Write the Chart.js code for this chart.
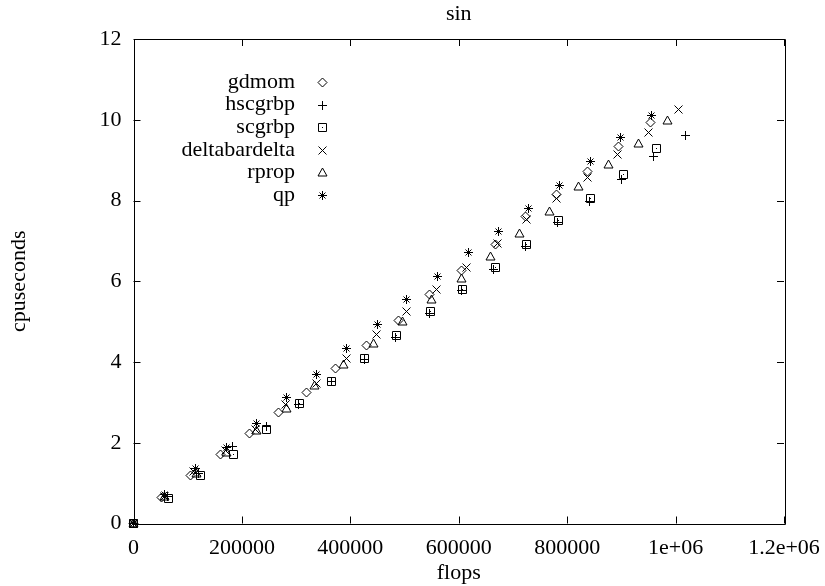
<!DOCTYPE html>
<html>
<head>
	<title>sin - cpuseconds vs flops</title>
	<meta charset="utf-8" />
	<script src="https://cdn.jsdelivr.net/npm/chart.js"></script>
	<style>
		body { margin: 0; background: #fff; }
		#wrap { width: 825px; height: 586px; }
	</style>
</head>
<body>

<div id="wrap"><canvas id="myChart" width="825" height="586"></canvas></div>

<script type="text/javascript">
// data (flops, cpuseconds), every run starts at the origin
var gdmomFlops   = [0, 52000, 105500, 159600, 213100, 266600, 319600, 371800, 430300, 488600, 545700, 605500, 667000, 722300, 780800, 838000, 894500, 953000];
var gdmomCpu     = [0, 0.65, 1.18, 1.70, 2.22, 2.74, 3.24, 3.85, 4.41, 5.04, 5.66, 6.27, 6.90, 7.60, 8.14, 8.72, 9.34, 9.93];

var hscgrbpFlops = [0, 61800, 120800, 183000, 244500, 305300, 365700, 425300, 482500, 545200, 604200, 663300, 722300, 781400, 841000, 900700, 959000, 1018800];
var hscgrbpCpu   = [0, 0.68, 1.25, 1.90, 2.40, 2.94, 3.51, 4.05, 4.60, 5.19, 5.76, 6.28, 6.85, 7.45, 7.98, 8.51, 9.08, 9.61];

var scgrbpFlops  = [0, 63700, 124500, 183600, 244500, 305900, 365700, 425300, 485600, 547000, 607400, 667000, 725500, 784500, 843500, 903700, 964600];
var scgrbpCpu    = [0, 0.63, 1.18, 1.72, 2.34, 2.96, 3.51, 4.08, 4.65, 5.24, 5.80, 6.34, 6.90, 7.50, 8.06, 8.65, 9.30];

var dbdFlops     = [0, 56300, 111600, 168800, 224200, 279500, 338000, 393400, 448700, 504100, 559400, 614800, 671200, 725500, 780800, 838000, 892600, 949800, 1004600];
var dbdCpu       = [0, 0.68, 1.28, 1.80, 2.34, 2.94, 3.46, 4.09, 4.69, 5.25, 5.80, 6.35, 6.94, 7.52, 8.06, 8.58, 9.15, 9.69, 10.25];

var rpropFlops   = [0, 58100, 115300, 172000, 226000, 281400, 333000, 387100, 442400, 496700, 550200, 604200, 659000, 711800, 767200, 821000, 876000, 931400, 985200];
var rpropCpu     = [0, 0.66, 1.23, 1.75, 2.30, 2.86, 3.41, 3.95, 4.47, 5.00, 5.56, 6.08, 6.61, 7.19, 7.73, 8.35, 8.90, 9.42, 9.97];

var qpFlops      = [0, 58100, 113500, 170700, 226000, 281400, 338000, 393400, 449800, 504100, 560900, 617700, 673100, 728400, 785600, 842200, 897600, 954800];
var qpCpu        = [0, 0.73, 1.35, 1.87, 2.47, 3.11, 3.70, 4.34, 4.92, 5.54, 6.11, 6.70, 7.23, 7.81, 8.37, 8.97, 9.55, 10.10];

var seriesNames  = ['gdmom', 'hscgrbp', 'scgrbp', 'deltabardelta', 'rprop', 'qp'];
var xTicks       = [0, 200000, 400000, 600000, 800000, 1000000, 1200000];
var xTickLabels  = ['0', '200000', '400000', '600000', '800000', '1e+06', '1.2e+06'];
var yTicks       = [0, 2, 4, 6, 8, 10, 12];

var FONT = '"Liberation Serif", "Times New Roman", serif';
var FSIZE = 22;

// gnuplot-like point markers drawn on small canvases
function makeMarker(kind) {
	var c = document.createElement('canvas');
	c.width = 13; c.height = 13;
	var g = c.getContext('2d');
	g.strokeStyle = '#000';
	g.fillStyle = '#000';
	g.lineWidth = 1;
	g.beginPath();
	if (kind == 'diamond') {
		g.moveTo(6.5, 2); g.lineTo(11, 6.5); g.lineTo(6.5, 11); g.lineTo(2, 6.5); g.closePath();
	} else if (kind == 'plus') {
		g.moveTo(2, 6.5); g.lineTo(11, 6.5); g.moveTo(6.5, 2); g.lineTo(6.5, 11);
	} else if (kind == 'square') {
		g.rect(2.5, 2.5, 8, 8);
		g.fillRect(6, 6, 1, 1);
	} else if (kind == 'cross') {
		g.moveTo(2.5, 2.5); g.lineTo(10.5, 10.5); g.moveTo(10.5, 2.5); g.lineTo(2.5, 10.5);
	} else if (kind == 'triangle') {
		g.moveTo(6.5, 2); g.lineTo(11, 10); g.lineTo(2, 10); g.closePath();
	} else if (kind == 'star') {
		g.moveTo(2, 6.5); g.lineTo(11, 6.5); g.moveTo(6.5, 2); g.lineTo(6.5, 11);
		g.moveTo(3.5, 3.5); g.lineTo(9.5, 9.5); g.moveTo(9.5, 3.5); g.lineTo(3.5, 9.5);
	}
	g.stroke();
	return c;
}

var markers = ['diamond', 'plus', 'square', 'cross', 'triangle', 'star'].map(makeMarker);

function pairs(xs, ys) {
	return xs.map(function (v, i) { return {x: v, y: ys[i]}; });
}

var allData = [
	pairs(gdmomFlops, gdmomCpu),
	pairs(hscgrbpFlops, hscgrbpCpu),
	pairs(scgrbpFlops, scgrbpCpu),
	pairs(dbdFlops, dbdCpu),
	pairs(rpropFlops, rpropCpu),
	pairs(qpFlops, qpCpu)
];

var datasets = seriesNames.map(function (name, i) {
	return {
		label: name,
		data: allData[i],
		pointStyle: markers[i],
		showLine: false,
		clip: false,
		borderColor: '#000',
		backgroundColor: '#000'
	};
});

// frame, inward ticks on all four sides, titles and the key
var gnuplotLook = {
	id: 'gnuplotLook',
	beforeDatasetsDraw: function (chart) {
		chart.ctx.imageSmoothingEnabled = false;
	},
	afterDraw: function (chart) {
		var ctx = chart.ctx;
		var a = chart.chartArea;
		var xs = chart.scales.x, ys = chart.scales.y;
		ctx.save();
		ctx.imageSmoothingEnabled = false;
		ctx.strokeStyle = '#000';
		ctx.lineWidth = 1;
		ctx.beginPath();
		ctx.rect(Math.round(a.left) + 0.5, Math.round(a.top) + 0.5, Math.round(a.right - a.left), Math.round(a.bottom - a.top));
		var t = 7;
		xTicks.forEach(function (v) {
			var px = Math.round(xs.getPixelForValue(v)) + 0.5;
			ctx.moveTo(px, a.bottom); ctx.lineTo(px, a.bottom - t);
			ctx.moveTo(px, a.top); ctx.lineTo(px, a.top + t);
		});
		yTicks.forEach(function (v) {
			var py = Math.round(ys.getPixelForValue(v)) + 0.5;
			ctx.moveTo(a.left, py); ctx.lineTo(a.left + t, py);
			ctx.moveTo(a.right, py); ctx.lineTo(a.right - t, py);
		});
		ctx.stroke();

		ctx.fillStyle = '#000';
		ctx.font = FSIZE + 'px ' + FONT;
		ctx.textAlign = 'center';
		ctx.textBaseline = 'middle';
		ctx.fillText('sin', (a.left + a.right) / 2, 14);
		ctx.fillText('flops', (a.left + a.right) / 2, 573);
		ctx.save();
		ctx.translate(19, (a.top + a.bottom) / 2);
		ctx.rotate(-Math.PI / 2);
		ctx.fillText('cpuseconds', 0, 0);
		ctx.restore();

		// key
		ctx.textAlign = 'right';
		for (var i = 0; i < seriesNames.length; i++) {
			var ky = 82 + i * 22.6;
			ctx.fillText(seriesNames[i], 295, ky);
			ctx.drawImage(markers[i], 322 - 6, Math.round(ky) - 6);
		}
		ctx.restore();
	}
};

var ctx = document.getElementById('myChart').getContext('2d');
var chart = new Chart(ctx, {
	type: 'scatter',
	data: { datasets: datasets },
	options: {
		responsive: false,
		animation: false,
		layout: { padding: { top: 39, right: 41, left: 0, bottom: 0 } },
		plugins: {
			legend: { display: false },
			title: { display: false },
			tooltip: { enabled: false }
		},
		elements: { point: { radius: 4 } },
		scales: {
			x: {
				type: 'linear',
				min: 0,
				max: 1200000,
				afterFit: function (scale) {
					scale.height = 62.5;
					scale.paddingLeft = 0;
					scale.paddingRight = 0;
				},
				afterBuildTicks: function (scale) {
					scale.ticks = xTicks.map(function (v) { return {value: v}; });
				},
				grid: { display: false, drawTicks: false },
				border: { display: false },
				ticks: {
					color: '#000',
					font: { family: FONT, size: FSIZE },
					padding: 12,
					maxRotation: 0,
					autoSkip: false,
					callback: function (v) { return xTickLabels[xTicks.indexOf(v)]; }
				}
			},
			y: {
				type: 'linear',
				min: 0,
				max: 12,
				afterFit: function (scale) {
					scale.width = 133.5;
					scale.paddingTop = 0;
					scale.paddingBottom = 0;
				},
				afterBuildTicks: function (scale) {
					scale.ticks = yTicks.map(function (v) { return {value: v}; });
				},
				grid: { display: false, drawTicks: false },
				border: { display: false },
				ticks: {
					color: '#000',
					font: { family: FONT, size: FSIZE },
					padding: 12,
					autoSkip: false
				}
			}
		}
	},
	plugins: [gnuplotLook]
});
</script>
</body>
</html>
